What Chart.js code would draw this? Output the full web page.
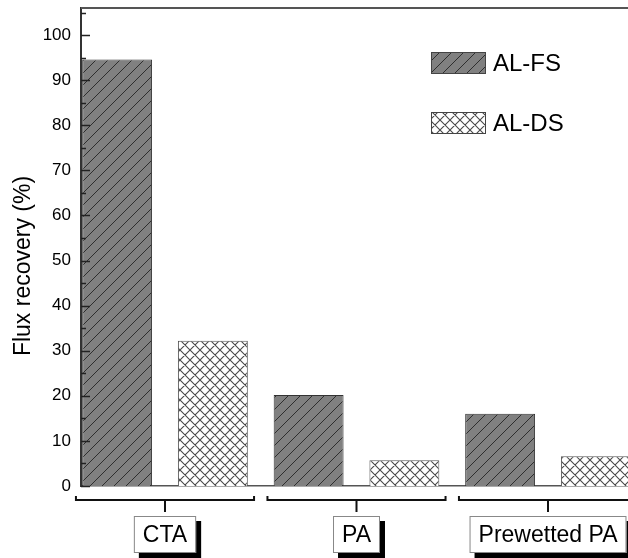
<!DOCTYPE html>
<html>
<head>
<meta charset="utf-8">
<script src="https://cdn.jsdelivr.net/npm/chart.js@4/dist/chart.umd.min.js"></script>
<style>
  html, body { margin: 0; padding: 0; background: #fff; overflow: hidden; }
  #wrap { position: relative; width: 640px; height: 558px; }
</style>
</head>
<body>
<div id="wrap"><canvas id="recoveryChart"></canvas></div>
<script>
// data
var categories = ['CTA', 'PA', 'Prewetted PA'];
var seriesNames = ['AL-FS', 'AL-DS'];
var alFs = [94.6, 20.2, 16.0];
var alDs = [32.2, 5.7, 6.6];
var yTicks = [0, 10, 20, 30, 40, 50, 60, 70, 80, 90, 100];
var yTitle = 'Flux recovery (%)';

var FONT = '"Liberation Sans", Arial, sans-serif';

/**
 * Diagonal hatch on gray (AL-FS)
 */
function hatchPattern(ctx) {
    var s = 12;
    var c = document.createElement('canvas');
    c.width = s; c.height = s;
    var g = c.getContext('2d');
    g.fillStyle = '#808080';
    g.fillRect(0, 0, s, s);
    g.strokeStyle = '#2e2e2e';
    g.lineWidth = 1;
    g.beginPath();
    g.moveTo(0, s); g.lineTo(s, 0);
    g.moveTo(-1, 1); g.lineTo(1, -1);
    g.moveTo(s - 1, s + 1); g.lineTo(s + 1, s - 1);
    g.stroke();
    return ctx.createPattern(c, 'repeat');
}

/**
 * Cross hatch on white (AL-DS)
 */
function crossPattern(ctx) {
    var s = 10;
    var c = document.createElement('canvas');
    c.width = s; c.height = s;
    var g = c.getContext('2d');
    g.fillStyle = '#ffffff';
    g.fillRect(0, 0, s, s);
    g.strokeStyle = '#4a4a4a';
    g.lineWidth = 1.1;
    g.beginPath();
    g.moveTo(0, s); g.lineTo(s, 0);
    g.moveTo(-1, 1); g.lineTo(1, -1);
    g.moveTo(s - 1, s + 1); g.lineTo(s + 1, s - 1);
    g.moveTo(0, 0); g.lineTo(s, s);
    g.moveTo(-1, s - 1); g.lineTo(1, s + 1);
    g.moveTo(s - 1, -1); g.lineTo(s + 1, 1);
    g.stroke();
    return ctx.createPattern(c, 'repeat');
}

// inward ticks, frame, brackets, label boxes, legend, axis title
var decorations = {
    id: 'decorations',
    afterDraw: function(chart) {
        var ctx = chart.ctx;
        var area = chart.chartArea;
        var xs = chart.scales.x;
        var ys = chart.scales.y;
        ctx.save();

        // top frame
        ctx.strokeStyle = '#555';
        ctx.lineWidth = 2;
        ctx.beginPath();
        ctx.moveTo(area.left, area.top);
        ctx.lineTo(area.right, area.top);
        ctx.stroke();

        // y ticks pointing inward, major + minor
        ctx.strokeStyle = '#222';
        ctx.lineWidth = 1.5;
        ctx.beginPath();
        yTicks.forEach(function(v) {
            var p = Math.round(ys.getPixelForValue(v)) + 0.5;
            ctx.moveTo(area.left, p); ctx.lineTo(area.left + 9, p);
            var m = v + 5;
            if (m < ys.max) {
                var q = Math.round(ys.getPixelForValue(m)) + 0.5;
                ctx.moveTo(area.left, q); ctx.lineTo(area.left + 5, q);
            }
        });
        ctx.stroke();

        // category brackets and boxed labels
        ctx.font = '23px ' + FONT;
        ctx.textAlign = 'center';
        ctx.textBaseline = 'middle';
        categories.forEach(function(name, i) {
            var cx = xs.getPixelForValue(i + 1);
            var l = xs.getPixelForValue(i + 1 - 0.465);
            var r = xs.getPixelForValue(i + 1 + 0.465);
            var by = area.bottom + 14;
            ctx.strokeStyle = '#111';
            ctx.lineWidth = 2;
            ctx.beginPath();
            ctx.moveTo(l, by - 4); ctx.lineTo(l, by);
            ctx.lineTo(r, by); ctx.lineTo(r, by - 4);
            ctx.moveTo(cx, by); ctx.lineTo(cx, by + 12);
            ctx.stroke();

            var w = ctx.measureText(name).width + 18;
            var h = 37;
            var bx = cx - w / 2;
            var bt = by + 16;
            ctx.fillStyle = '#000';
            ctx.fillRect(bx + 5, bt + 5, w, h);
            ctx.fillStyle = '#fff';
            ctx.fillRect(bx, bt, w, h);
            ctx.strokeStyle = '#888';
            ctx.lineWidth = 1;
            ctx.strokeRect(bx + 0.5, bt + 0.5, w - 1, h - 1);
            ctx.fillStyle = '#000';
            ctx.fillText(name, cx, bt + h / 2 + 1);
        });

        // legend inside plot
        ctx.textAlign = 'left';
        ctx.font = '24px ' + FONT;
        chart.data.datasets.forEach(function(ds, i) {
            var sx = 431, sy = 52 + i * 60;
            ctx.fillStyle = ds.backgroundColor;
            ctx.fillRect(sx, sy, 55, 22);
            ctx.strokeStyle = '#444';
            ctx.lineWidth = 1;
            ctx.strokeRect(sx + 0.5, sy + 0.5, 54, 21);
            ctx.fillStyle = '#000';
            ctx.fillText(ds.label, sx + 62, sy + 12);
        });

        // y axis title
        ctx.translate(24, 266);
        ctx.rotate(-Math.PI / 2);
        ctx.font = '23px ' + FONT;
        ctx.textAlign = 'center';
        ctx.fillText(yTitle, 0, 0);
        ctx.restore();
    }
};

function initRecoveryChart() {
    var el = document.getElementById('recoveryChart');
    var ctx = el.getContext('2d');

    var chart = new Chart(ctx, {
        type: 'bar',
        data: {
            datasets: [{
                label: seriesNames[0],
                data: alFs.map(function(v, i) { return { x: i + 1, y: v }; }),
                backgroundColor: hatchPattern(ctx),
                borderColor: '#333',
                borderWidth: 1
            }, {
                label: seriesNames[1],
                data: alDs.map(function(v, i) { return { x: i + 1, y: v }; }),
                backgroundColor: crossPattern(ctx),
                borderColor: '#555',
                borderWidth: 1
            }]
        },
        options: {
            responsive: true,
            maintainAspectRatio: false,
            animation: false,
            categoryPercentage: 1.0,
            barPercentage: 0.73,
            layout: { padding: { top: 8, right: 8, left: 0, bottom: 0 } },
            plugins: {
                legend: { display: false },
                tooltip: { enabled: false }
            },
            scales: {
                x: {
                    type: 'linear',
                    offset: false,
                    min: 0.5614,
                    max: 3.4386,
                    afterBuildTicks: function(scale) {
                        scale.ticks = categories.map(function(c, i) { return { value: i + 1 }; });
                    },
                    afterFit: function(scale) {
                        scale.height = 72;
                        scale.paddingLeft = 0;
                        scale.paddingRight = 0;
                    },
                    ticks: { display: false },
                    grid: { display: false, drawTicks: false },
                    border: { display: true, color: '#555', width: 1.5 }
                },
                y: {
                    min: 0,
                    max: 106,
                    afterFit: function(scale) {
                        scale.width = 81;
                        scale.paddingTop = 0;
                        scale.paddingBottom = 0;
                    },
                    ticks: {
                        stepSize: 10,
                        includeBounds: false,
                        padding: 10,
                        color: '#000',
                        font: { family: FONT, size: 17 }
                    },
                    grid: { display: false, drawTicks: false },
                    border: { display: true, color: '#333', width: 2 }
                }
            }
        },
        plugins: [decorations]
    });
}

initRecoveryChart();
</script>
</body>
</html>
